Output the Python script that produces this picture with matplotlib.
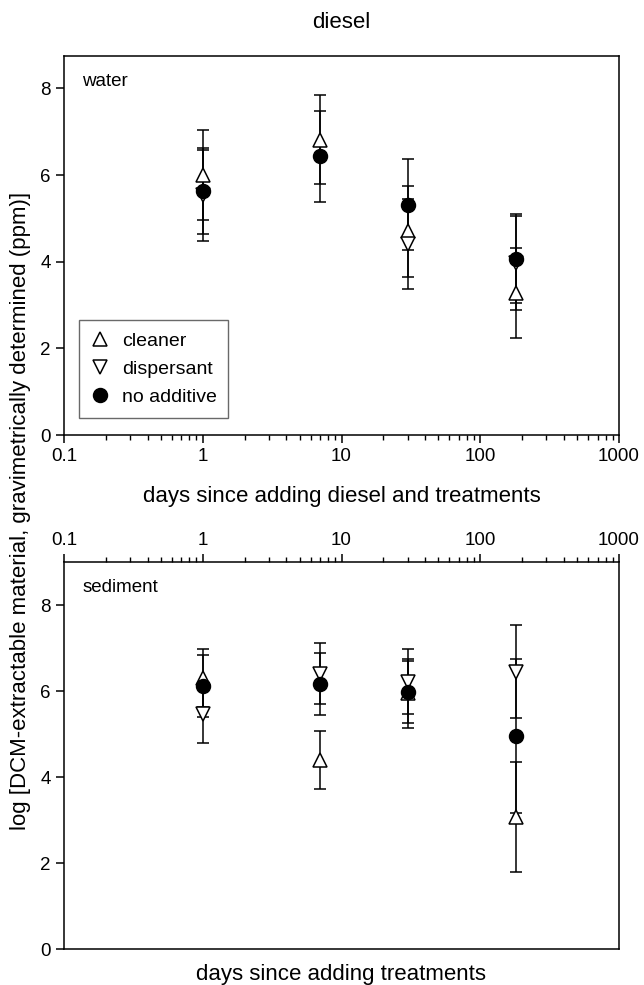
import numpy as np
import matplotlib.pyplot as plt
from matplotlib.lines import Line2D
from matplotlib.ticker import FixedLocator, LogLocator, NullFormatter, FuncFormatter

plt.rcParams['font.family'] = ['Liberation Sans', 'DejaVu Sans']

# sampling days and log-transformed concentrations (mean, error)
days = [1, 7, 30, 180]

water_cleaner = [6.00, 6.82, 4.70, 3.28]
water_cleaner_err = [1.04, 1.03, 1.06, 1.04]
water_dispersant = [5.54, np.nan, 4.42, 3.97]
water_dispersant_err = [1.05, np.nan, 1.04, 1.08]
water_none = [5.63, 6.43, 5.32, 4.07]
water_none_err = [1.00, 1.05, 1.05, 1.03]

sed_cleaner = [6.30, 4.40, 5.95, 3.07]
sed_cleaner_err = [0.67, 0.68, 0.80, 1.28]
sed_dispersant = [5.46, 6.40, 6.22, 6.45]
sed_dispersant_err = [0.66, 0.71, 0.75, 1.08]
sed_none = [6.12, 6.16, 5.98, 4.95]
sed_none_err = [0.72, 0.72, 0.72, 1.79]

xticks = [0.1, 1, 10, 100, 1000]
yticks = [0, 2, 4, 6, 8]

fig = plt.figure(figsize=(6.44, 9.85), dpi=100)
ax1 = fig.add_axes([64/644, 1 - 435/985, 555/644, 379/985])
ax2 = fig.add_axes([64/644, 1 - 949/985, 555/644, 387/985])

FS_TICK = 13.5
FS_LABEL = 16


def draw(ax, sets, label, ylim):
    for y, e, mk, fc in sets:
        ax.errorbar(days, y, yerr=e, fmt=mk, color='black', mfc=fc, mec='black',
                    ms=10, mew=1.1, elinewidth=1.1, capsize=4.5, capthick=1.1)
    ax.set_xscale('log')
    ax.set_xlim(0.1, 1000)
    ax.set_ylim(*ylim)
    ax.xaxis.set_major_locator(FixedLocator(xticks))
    ax.xaxis.set_minor_locator(LogLocator(base=10, subs=np.arange(2, 10)))
    ax.xaxis.set_minor_formatter(NullFormatter())
    ax.xaxis.set_major_formatter(FuncFormatter(lambda v, p: f'{v:g}'))
    ax.yaxis.set_major_locator(FixedLocator(yticks))
    ax.tick_params(axis='both', which='major', direction='out', length=6,
                   width=1.1, labelsize=FS_TICK)
    ax.tick_params(axis='x', which='minor', direction='out', length=3.5, width=1.0)
    for s in ax.spines.values():
        s.set_linewidth(1.1)
    ax.text(0.033, 0.955, label, transform=ax.transAxes, fontsize=FS_TICK,
            va='top', ha='left')


draw(ax1, [(water_cleaner, water_cleaner_err, '^', 'white'),
           (water_dispersant, water_dispersant_err, 'v', 'white'),
           (water_none, water_none_err, 'o', 'black')], 'water', (0, 8.75))
draw(ax2, [(sed_cleaner, sed_cleaner_err, '^', 'white'),
           (sed_dispersant, sed_dispersant_err, 'v', 'white'),
           (sed_none, sed_none_err, 'o', 'black')], 'sediment', (0, 9.0))

ax1.set_title('diesel', fontsize=FS_LABEL, pad=20)
ax1.set_xlabel('days since adding diesel and treatments', fontsize=FS_LABEL, labelpad=15)

ax2.xaxis.tick_top()
ax2.set_xlabel('days since adding treatments', fontsize=FS_LABEL, labelpad=11)

fig.text(0.032, 0.481, 'log [DCM-extractable material, gravimetrically determined (ppm)]',
         rotation=90, ha='center', va='center', fontsize=FS_LABEL)

handles = [
    Line2D([], [], ls='none', marker='^', mfc='white', mec='black', ms=10, mew=1.1),
    Line2D([], [], ls='none', marker='v', mfc='white', mec='black', ms=10, mew=1.1),
    Line2D([], [], ls='none', marker='o', mfc='black', mec='black', ms=10, mew=1.1),
]
leg = ax1.legend(handles, ['cleaner', 'dispersant', 'no additive'],
                 loc='lower left', bbox_to_anchor=(0.027, 0.045), borderaxespad=0,
                 fontsize=14, frameon=True, fancybox=False, handlelength=1.0,
                 handletextpad=0.6, borderpad=0.6, labelspacing=0.55)
leg.get_frame().set_edgecolor('#444444')
leg.get_frame().set_linewidth(1.0)

fig.savefig('out.png', dpi=100)
